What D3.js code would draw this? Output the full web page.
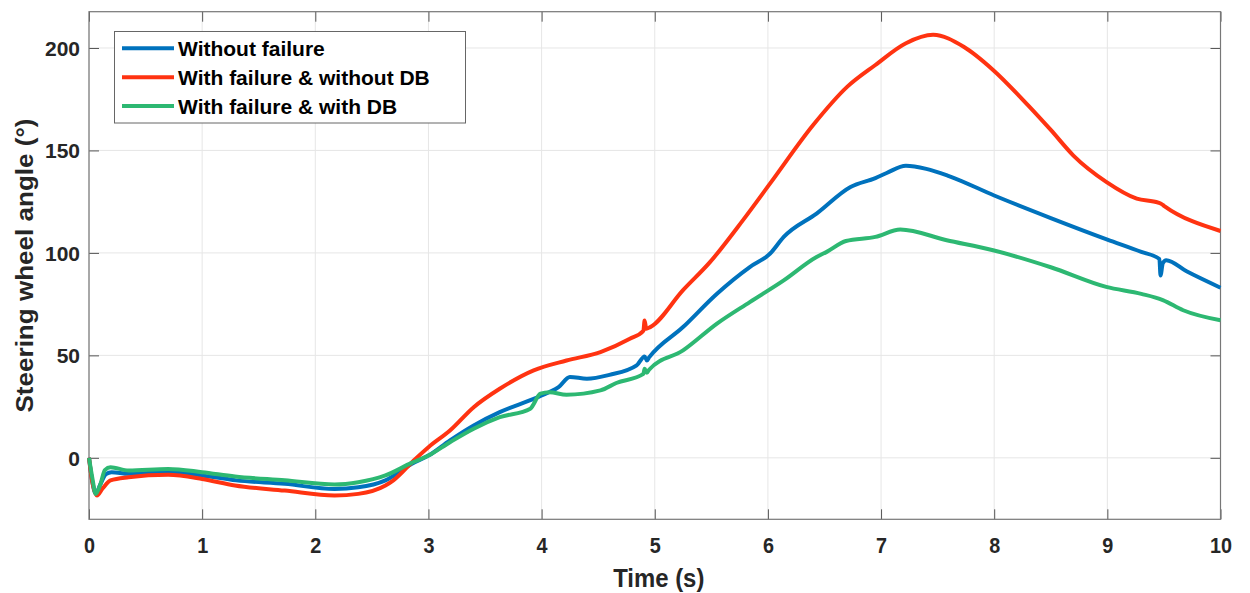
<html>
<head>
  <script src="https://d3js.org/d3.v7.min.js"></script>
  <style>
    body { margin: 0; padding: 0; background: #fff; }
    svg { display: block; }
    .tick text { font-family: "Liberation Sans", Arial, sans-serif; font-weight: bold; fill: #262626; }
  </style>
</head>
<body>
<div id="chart"></div>
<script>
// time (s) and steering wheel angle (deg)
const tNoFail = [0, 0.03, 0.06, 0.1, 0.15, 0.2, 0.35, 0.7, 1.0, 1.3, 1.73, 2.17, 2.38, 2.62, 2.85, 3.0, 3.19, 3.4, 3.63, 3.93, 4.07, 4.15, 4.25, 4.4, 4.6, 4.84, 4.91, 4.93, 4.95, 5.25, 5.55, 5.84, 6.02, 6.14, 6.43, 6.73, 6.95, 7.05, 7.22, 7.4, 7.6, 8.0, 8.5, 9.0, 9.3, 9.46, 9.47, 9.49, 9.52, 9.7, 10];
const vNoFail = [0, -12, -17.4, -13, -8, -7, -7.8, -7, -8.6, -11, -12.7, -15.2, -14.4, -11, -3, 1.1, 8.5, 15.8, 22.3, 28.8, 32.1, 34.5, 39.5, 38.6, 40.5, 45.1, 49.5, 47.5, 49, 63.8, 80.1, 93.1, 99.7, 107.8, 119.2, 132.2, 136.5, 139, 142.5, 141, 137.5, 128, 117, 106.5, 100.5, 97, 89, 95, 96.4, 91, 83];

const tFailNoDB = [0, 0.03, 0.07, 0.12, 0.19, 0.35, 0.7, 1.0, 1.29, 1.73, 2.17, 2.38, 2.62, 2.69, 2.87, 3.0, 3.19, 3.4, 3.63, 3.93, 4.22, 4.52, 4.78, 4.9, 4.91, 4.925, 4.96, 5.25, 5.49, 5.78, 6.02, 6.4, 6.7, 6.95, 7.22, 7.46, 7.73, 7.99, 8.3, 8.5, 8.7, 8.99, 9.26, 9.45, 9.48, 9.5, 10];
const vFailNoDB = [0, -12, -18.4, -15, -11, -9.5, -8.3, -10.3, -13.5, -16, -18.4, -17.6, -13.5, -11, -1.3, 5.2, 13.3, 24.7, 33.7, 42.7, 47.5, 51.6, 58.1, 62, 67, 63, 63.8, 81.8, 95.6, 116, 133.9, 162.4, 181, 191.7, 202.3, 206.4, 200.6, 189.3, 172, 160, 147.5, 134.7, 126.5, 124.5, 123.8, 123, 110.7];

const tFailDB = [0, 0.03, 0.06, 0.1, 0.14, 0.19, 0.35, 0.7, 1.0, 1.29, 1.73, 2.17, 2.38, 2.62, 2.85, 3.0, 3.19, 3.4, 3.63, 3.9, 3.99, 4.07, 4.22, 4.52, 4.66, 4.9, 4.91, 4.93, 4.95, 5.25, 5.55, 5.84, 6.14, 6.43, 6.52, 6.69, 6.95, 7.17, 7.58, 7.99, 8.5, 8.99, 9.3, 9.49, 9.67, 10];
const vFailDB = [0, -10, -17.6, -13, -6, -4.6, -6.2, -5.4, -7, -9.1, -11, -13, -11.9, -8.6, -2.5, 1.1, 7.6, 14.2, 19.8, 24, 31.3, 32, 30.8, 32.9, 36.5, 41, 43.5, 41.5, 43, 52.4, 65.5, 76, 86.6, 98, 100.5, 105.8, 107.8, 111.4, 106.2, 101.3, 93, 83.4, 80, 77, 72, 67.1];

const seriesNames = ["Without failure", "With failure & without DB", "With failure & with DB"];
const seriesColors = ["#0072bd", "#ff3311", "#2db872"];
const xTicks = [0, 1, 2, 3, 4, 5, 6, 7, 8, 9, 10];
const yTicks = [0, 50, 100, 150, 200];

const width = 1250, height = 593;
const margin = { left: 89, top: 11.7, right: 29.5, bottom: 73.7 };
const innerW = width - margin.left - margin.right;
const innerH = height - margin.top - margin.bottom;

const svg = d3.select("#chart").append("svg")
  .attr("width", width)
  .attr("height", height);

const g = svg.append("g").attr("transform", `translate(${margin.left},${margin.top})`);

const x = d3.scaleLinear().domain([0, 10]).range([0, innerW]);
const y = d3.scaleLinear().domain([-30, 217.7]).range([innerH, 0]);

// grid
g.append("g").selectAll("line").data(xTicks).enter().append("line")
  .attr("x1", d => x(d)).attr("x2", d => x(d))
  .attr("y1", 0).attr("y2", innerH)
  .attr("stroke", "#e6e6e6").attr("stroke-width", 1);
g.append("g").selectAll("line").data(yTicks).enter().append("line")
  .attr("x1", 0).attr("x2", innerW)
  .attr("y1", d => y(d)).attr("y2", d => y(d))
  .attr("stroke", "#e6e6e6").attr("stroke-width", 1);

// axes
const xAxis = g.append("g").attr("transform", `translate(0,${innerH})`)
  .call(d3.axisBottom(x).tickValues(xTicks).tickSize(-10).tickPadding(18).tickFormat(d3.format("d")));
// x labels in the reference are a bit squeezed
xAxis.selectAll("text")
  .style("font-size", "22px")
  .attr("transform", "scale(0.9,1)");

const yAxis = g.append("g")
  .call(d3.axisLeft(y).tickValues(yTicks).tickSize(-10).tickPadding(9).tickFormat(d3.format("d")));
yAxis.selectAll("text").style("font-size", "21px").attr("dy", "0.36em");

g.append("g").attr("transform", `translate(${innerW},0)`)
  .call(d3.axisRight(y).tickValues(yTicks).tickSize(-10).tickFormat(""));
g.append("g")
  .call(d3.axisTop(x).tickValues(xTicks).tickSize(-10).tickFormat(""));

g.selectAll(".domain").attr("stroke", "none");
g.selectAll(".tick line").attr("stroke", "#555");

g.append("rect")
  .attr("x", 0).attr("y", 0).attr("width", innerW).attr("height", innerH)
  .attr("fill", "none").attr("stroke", "#777").attr("stroke-width", 1.2);

// lines
const series = [
  { t: tNoFail, v: vNoFail },
  { t: tFailNoDB, v: vFailNoDB },
  { t: tFailDB, v: vFailDB }
];

const line = d3.line()
  .x(d => x(d[0]))
  .y(d => y(d[1]))
  .curve(d3.curveMonotoneX);

series.forEach((s, i) => {
  const pts = s.t.map((t, k) => [t, s.v[k]]);
  g.append("path")
    .datum(pts)
    .attr("d", line)
    .attr("fill", "none")
    .attr("stroke", seriesColors[i])
    .attr("stroke-width", 4)
    .attr("stroke-linejoin", "round");
});

// axis labels
svg.append("text")
  .attr("transform", `translate(${margin.left + innerW / 2 + 4},587) scale(0.92,1)`)
  .attr("text-anchor", "middle")
  .style("font-family", "'Liberation Sans', Arial, sans-serif")
  .style("font-weight", "bold")
  .style("font-size", "26px")
  .style("fill", "#262626")
  .text("Time (s)");

svg.append("text")
  .attr("transform", `translate(33,${margin.top + innerH / 2}) rotate(-90)`)
  .attr("text-anchor", "middle")
  .attr("textLength", 294)
  .attr("lengthAdjust", "spacingAndGlyphs")
  .style("font-family", "'Liberation Sans', Arial, sans-serif")
  .style("font-weight", "bold")
  .style("font-size", "24px")
  .style("fill", "#262626")
  .text("Steering wheel angle (°)");

// legend
const legend = svg.append("g");
legend.append("rect")
  .attr("x", 114.5).attr("y", 31.5).attr("width", 351).attr("height", 91.5)
  .attr("fill", "#fff").attr("stroke", "#666").attr("stroke-width", 1);

seriesNames.forEach((name, i) => {
  const ly = 48.3 + i * 28.9;
  legend.append("line")
    .attr("x1", 122).attr("x2", 174)
    .attr("y1", ly).attr("y2", ly)
    .attr("stroke", seriesColors[i]).attr("stroke-width", 4);
  legend.append("text")
    .attr("x", 178).attr("y", ly)
    .attr("dy", "0.36em")
    .style("font-family", "'Liberation Sans', Arial, sans-serif")
    .style("font-weight", "bold")
    .style("font-size", "21px")
    .style("fill", "#000")
    .text(name);
});
</script>
</body>
</html>
